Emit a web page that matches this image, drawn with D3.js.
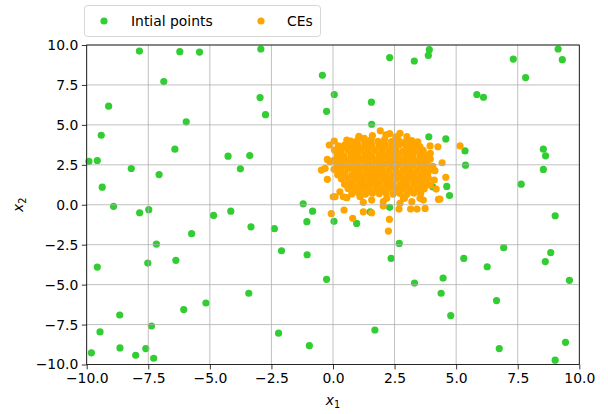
<!DOCTYPE html>
<html><head><meta charset="utf-8">
<script src="https://cdn.jsdelivr.net/npm/d3@7"></script>
<style>body{margin:0;background:#fff}svg{display:block}text{font-family:"DejaVu Sans",sans-serif}</style>
</head><body><div id="c"></div>
<script>
const xTicks = [-10, -7.5, -5, -2.5, 0, 2.5, 5, 7.5, 10];
const yTicks = [-10, -7.5, -5, -2.5, 0, 2.5, 5, 7.5, 10];
const seriesNames = ["Intial points", "CEs"];

const initialPoints = [
[-7.86,9.62],[-6.22,9.58],[-5.42,9.56],[-2.93,9.75],[-0.43,8.10],[-6.87,7.71],[-9.11,6.17],[-2.96,6.71],
[-2.74,5.64],[-0.26,5.85],[-5.96,5.19],[-9.41,4.35],[-6.42,3.48],[-9.91,2.71],[-9.57,2.77],[-8.19,2.27],
[-4.26,3.04],[-3.38,3.08],[-3.76,2.25],[-7.06,1.89],[-9.37,1.10],[-8.91,-0.10],[-1.21,0.06],[-0.83,-0.40],
[-7.85,-0.50],[-7.48,-0.31],[-4.85,-0.67],[-4.15,-0.40],[-1.06,-1.06],[-3.33,-1.38],[-2.38,-1.50],[-5.74,-1.81],
[-7.17,-2.46],[-2.09,-2.88],[-1.05,-3.13],[-9.57,-3.90],[-7.52,-3.65],[-6.38,-3.48],[-0.26,-4.67],[-3.42,-5.54],
[-5.16,-6.15],[-6.06,-6.56],[-8.66,-6.90],[-7.37,-7.59],[-9.46,-7.96],[-2.21,-8.04],[-0.96,-8.82],[-9.81,-9.27],
[-8.65,-8.96],[-7.60,-9.00],[-8.01,-9.42],[-7.28,-9.61],
[3.91,9.71],[3.87,9.35],[2.30,9.21],[3.30,9.00],[9.14,9.75],[9.31,9.08],[7.32,9.12],[7.82,7.96],
[5.84,6.90],[6.11,6.73],[0.05,6.90],[1.56,6.42],[1.57,5.04],[3.89,4.25],[4.58,4.12],[5.36,3.37],
[5.38,2.48],[8.54,3.48],[8.63,3.06],[8.54,2.21],[7.64,1.29],[4.62,1.15],[4.73,0.58],[4.05,1.12],
[9.02,-0.69],[0.04,-1.04],[0.96,-1.17],[2.69,-2.42],[2.36,-3.36],[3.31,-4.90],[4.47,-4.59],[4.39,-5.54],
[5.31,-3.36],[6.26,-3.88],[6.93,-2.69],[8.84,-3.00],[8.62,-3.56],[9.60,-4.73],[6.64,-6.00],[4.78,-6.94],
[1.70,-7.84],[6.75,-9.00],[9.44,-8.61],[9.02,-9.73],[2.30,-0.16],[1.51,-0.44]
];

const cePoints = [
[1.05,4.28],[1.6,4.33],[2.15,4.38],[2.55,4.25],
[0.72,3.98],[1.0,4.05],[1.28,3.95],[1.55,4.08],[1.83,3.97],[2.1,4.1],[2.38,3.96],[2.66,4.04],[2.93,3.93],[3.2,4.02],
[0.22,3.68],[0.47,3.74],[0.74,3.66],[1.02,3.72],[1.3,3.69],[1.57,3.76],[1.86,3.67],[2.13,3.73],[2.41,3.65],[2.7,3.75],[2.97,3.68],[3.24,3.71],[3.53,3.64],
[0.06,3.42],[0.33,3.37],[0.61,3.44],[0.88,3.38],[1.15,3.43],[1.43,3.36],[1.71,3.41],[1.99,3.45],[2.27,3.38],[2.55,3.42],[2.83,3.35],[3.1,3.44],[3.38,3.39],[3.66,3.41],
[0.17,3.12],[0.45,3.06],[0.73,3.14],[1.01,3.08],[1.29,3.11],[1.57,3.05],[1.86,3.13],[2.14,3.09],[2.41,3.15],[2.69,3.07],[2.97,3.12],[3.25,3.06],[3.53,3.14],[3.81,3.09],
[0.04,2.78],[0.31,2.83],[0.59,2.76],[0.87,2.82],[1.16,2.79],[1.44,2.84],[1.72,2.77],[2.0,2.81],[2.28,2.76],[2.56,2.83],[2.84,2.78],[3.12,2.82],[3.4,2.75],[3.68,2.8],[3.95,2.86],
[0.17,2.52],[0.45,2.47],[0.73,2.54],[1.02,2.49],[1.3,2.53],[1.58,2.46],[1.86,2.51],[2.14,2.55],[2.42,2.48],[2.7,2.52],[2.98,2.45],[3.26,2.53],[3.54,2.49],[3.82,2.54],
[0.04,2.22],[0.32,2.17],[0.6,2.24],[0.88,2.19],[1.16,2.23],[1.44,2.16],[1.72,2.21],[2.0,2.25],[2.28,2.18],[2.56,2.22],[2.84,2.15],[3.12,2.23],[3.4,2.19],[3.68,2.24],[3.96,2.18],
[0.19,1.88],[0.48,1.93],[0.76,1.86],[1.04,1.92],[1.32,1.89],[1.6,1.94],[1.88,1.87],[2.16,1.91],[2.44,1.85],[2.72,1.92],[3.0,1.88],[3.28,1.93],[3.56,1.86],[3.84,1.91],
[0.34,1.62],[0.62,1.57],[0.9,1.63],[1.18,1.58],[1.46,1.61],[1.74,1.56],[2.02,1.63],[2.3,1.59],[2.58,1.64],[2.86,1.57],[3.14,1.62],[3.42,1.58],[3.7,1.63],
[0.47,1.28],[0.76,1.33],[1.04,1.27],[1.32,1.32],[1.6,1.29],[1.88,1.34],[2.16,1.27],[2.44,1.31],[2.72,1.26],[3.0,1.33],[3.28,1.29],[3.56,1.32],[3.83,1.27],
[0.61,1.02],[0.9,0.97],[1.18,1.03],[1.46,0.98],[1.74,1.01],[2.02,0.96],[2.3,1.04],[2.58,0.99],[2.86,1.02],[3.14,0.97],[3.42,1.03],[3.7,0.99],
[0.76,0.68],[1.04,0.73],[1.32,0.67],[1.6,0.72],[1.88,0.69],[2.16,0.74],[2.44,0.67],[2.72,0.71],[3.0,0.66],[3.28,0.73],[3.56,0.69],
[0.85,3.84],[1.42,3.87],[1.98,3.83],[2.52,3.88],[3.05,3.82],
[0.35,3.55],[0.88,3.52],[1.44,3.57],[2.0,3.53],[2.55,3.58],[3.1,3.51],[3.4,3.56],
[0.3,3.27],[0.87,3.23],[1.43,3.26],[2.0,3.22],[2.55,3.28],[3.11,3.24],[3.65,3.26],
[0.18,2.94],[0.74,2.97],[1.3,2.93],[1.86,2.96],[2.42,2.92],[2.98,2.97],[3.54,2.93],[3.85,2.96],
[0.3,2.66],[0.86,2.63],[1.42,2.67],[1.98,2.62],[2.54,2.66],[3.1,2.64],[3.66,2.67],
[0.18,2.36],[0.74,2.33],[1.3,2.37],[1.86,2.34],[2.42,2.36],[2.98,2.32],[3.54,2.37],[4.05,2.4],
[0.33,2.04],[0.89,2.07],[1.45,2.03],[2.01,2.06],[2.57,2.02],[3.13,2.07],[3.69,2.03],
[0.48,1.76],[1.04,1.73],[1.6,1.77],[2.16,1.74],[2.72,1.76],[3.28,1.72],[3.84,1.77],
[0.62,1.44],[1.18,1.47],[1.74,1.43],[2.3,1.46],[2.86,1.42],[3.42,1.47],
[0.75,1.16],[1.31,1.13],[1.87,1.17],[2.43,1.14],[2.99,1.16],[3.55,1.12],
[0.9,0.86],[1.46,0.83],[2.02,0.87],[2.58,0.84],[3.14,0.86],
[1.92,4.63],[2.30,4.45],[2.72,4.47],[3.00,4.26],[3.44,3.94],[1.27,4.16],[0.56,4.05],[0.05,3.99],[-0.15,3.74],
[4.26,3.63],[3.94,3.68],[3.95,3.22],[4.43,2.63],[4.14,2.13],[4.58,1.72],[-0.23,2.84],[-0.47,2.17],[-0.23,1.59],
[0.08,0.50],[4.28,0.34],[4.11,1.55],[4.19,0.98],[5.16,3.68],[-0.07,-0.56],[0.45,-0.33],[0.80,-0.85],[1.23,-0.44],
[1.57,-0.50],[2.29,-0.91],[2.25,-1.65],[2.68,-0.27],[3.15,-0.27],[3.41,-0.27],[3.67,0.29],[2.04,-0.08],
[-0.12,2.69],[-0.32,2.28],[0.28,0.81],[0.42,0.50],[3.53,0.40],[3.74,-0.23],[2.90,0.40],[4.34,0.36],[3.94,1.23],[3.87,1.65],
[0.01,0.50],[0.56,0.44],[1.10,0.50],[1.57,0.29],[2.18,0.40],[2.86,0.40],[1.23,0.15],[2.04,0.19],[2.72,0.09],[3.2,0.19]
];

const W = 608, H = 414;
const m = {left: 86.7, right: 579.3, top: 45, bottom: 364.5};
const x = d3.scaleLinear().domain([-10, 10]).range([m.left, m.right]);
const y = d3.scaleLinear().domain([-10, 10]).range([m.bottom, m.top]);
const green = "#32cd32", orange = "#ffa500";
const R = 3.6;
const fmt = v => d3.format(".1f")(v).replace("-", "\u2212");

const svg = d3.select("#c").append("svg").attr("width", W).attr("height", H);

svg.append("g").selectAll("circle").data(initialPoints).join("circle")
  .attr("cx", d => x(d[0])).attr("cy", d => y(d[1])).attr("r", R).attr("fill", green);
svg.append("g").selectAll("circle").data(cePoints).join("circle")
  .attr("cx", d => x(d[0])).attr("cy", d => y(d[1])).attr("r", R).attr("fill", orange);

// grid on top of markers (matplotlib default zorder)
const grid = svg.append("g").attr("stroke", "#b0b0b0").attr("stroke-width", 0.8);
grid.selectAll(".gx").data(xTicks).join("line")
  .attr("x1", d => x(d)).attr("x2", d => x(d)).attr("y1", m.top).attr("y2", m.bottom);
grid.selectAll(".gy").data(yTicks).join("line")
  .attr("y1", d => y(d)).attr("y2", d => y(d)).attr("x1", m.left).attr("x2", m.right);

const xAxis = svg.append("g").attr("transform", `translate(0,${m.bottom})`)
  .call(d3.axisBottom(x).tickValues(xTicks).tickFormat(fmt).tickSize(4.9).tickPadding(3.5));
const yAxis = svg.append("g").attr("transform", `translate(${m.left},0)`)
  .call(d3.axisLeft(y).tickValues(yTicks).tickFormat(fmt).tickSize(4.9).tickPadding(3.5));
[xAxis, yAxis].forEach(a => {
  a.select(".domain").remove();
  a.selectAll("line").attr("stroke", "#000").attr("stroke-width", 0.8);
  a.selectAll("text").attr("font-size", "13.9px").attr("fill", "#000").attr("font-family", "DejaVu Sans");
});

svg.append("rect").attr("x", m.left).attr("y", m.top)
  .attr("width", m.right - m.left).attr("height", m.bottom - m.top)
  .attr("fill", "none").attr("stroke", "#000").attr("stroke-width", 0.8);

// axis labels
const xl = svg.append("text").attr("x", x(0)).attr("y", 405).attr("text-anchor", "middle").attr("font-size", "13.9px");
xl.append("tspan").attr("font-style", "italic").text("x");
xl.append("tspan").attr("font-size", "9.7px").attr("dy", 3).text("1");
const yl = svg.append("text").attr("transform", `translate(23,${y(0)}) rotate(-90)`).attr("text-anchor", "middle").attr("font-size", "13.9px");
yl.append("tspan").attr("font-style", "italic").text("x");
yl.append("tspan").attr("font-size", "9.7px").attr("dy", 3).text("2");

// legend
const lg = svg.append("g");
lg.append("rect").attr("x", 84.5).attr("y", 5.5).attr("width", 236).attr("height", 31).attr("rx", 3)
  .attr("fill", "#fff").attr("fill-opacity", 0.8).attr("stroke", "#cccccc").attr("stroke-width", 0.8);
const legItems = [{name: seriesNames[0], c: green, mx: 104, tx: 131}, {name: seriesNames[1], c: orange, mx: 261, tx: 287}];
legItems.forEach(it => {
  lg.append("circle").attr("cx", it.mx).attr("cy", 21).attr("r", R).attr("fill", it.c);
  lg.append("text").attr("x", it.tx).attr("y", 25.5).attr("font-size", "13.9px").text(it.name);
});
</script></body></html>
